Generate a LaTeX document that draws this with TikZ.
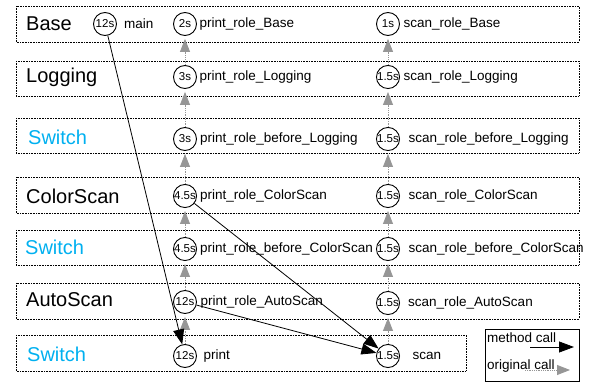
\documentclass[tikz,border=0pt]{standalone}
\usepackage{fontspec}
\setmainfont{Liberation Sans}
\usetikzlibrary{arrows.meta,positioning}
\definecolor{switchblue}{RGB}{0,176,240}
\definecolor{callgray}{RGB}{150,150,150}

\begin{document}
\begin{tikzpicture}[x=1pt,y=-1pt,
    layer/.style={densely dotted, line width=0.6pt},
    cost/.style={draw, circle, line width=0.9pt, minimum size=23pt, inner sep=0pt, font=\fontsize{11.5}{12}\selectfont},
    fname/.style={inner sep=1pt, font=\fontsize{13.5}{15}\selectfont},
    rolename/.style={right, inner sep=2pt, font=\fontsize{20}{22}\selectfont},
    call/.style={line width=0.8pt, -{Triangle[length=15pt,width=11pt]}},
    orig/.style={callgray, densely dotted, line width=0.8pt, -{Triangle[length=13pt,width=10pt]}, shorten >=3pt}]
    \useasboundingbox (0,0) rectangle (590,385);

    % Layers (dotted boxes)
    \draw[layer] (16,6) rectangle (579,42);
    \draw[layer] (16,61) rectangle (579,96);
    \draw[layer] (16,118) rectangle (579,153);
    \draw[layer] (16,177) rectangle (579,213);
    \draw[layer] (16,230) rectangle (579,265);
    \draw[layer] (16,283) rectangle (579,319);
    \draw[layer] (16,335) rectangle (466,371);

    % Layer names
    \node[rolename] (lBase) at (24,24) {Base};
    \node[rolename] (lLogging) at (24,77) {Logging};
    \node[rolename, switchblue] (lSwitchA) at (26,137) {Switch};
    \node[rolename] (lColorScan) at (24,196) {ColorScan};
    \node[rolename, switchblue] (lSwitchB) at (23,247) {Switch};
    \node[rolename] (lAutoScan) at (24,300) {AutoScan};
    \node[rolename, switchblue] (lSwitchC) at (25,354) {Switch};

    % main
    \node[cost] (main) at (105,24) {12s};
    \node[fname, right=6pt of main] (mainlb) {main};

    % print column
    \node[cost] (pBase) at (185,24) {2s};
    \node[fname, right=1.5pt of pBase] (pBaselb) {print\_role\_Base};
    \node[cost] (pLogging) at (185,77) {3s};
    \node[fname, right=1.5pt of pLogging] (pLogginglb) {print\_role\_Logging};
    \node[cost] (pSwitchA) at (185,139) {3s};
    \node[fname, right=2pt of pSwitchA] (pSwitchAlb) {print\_role\_before\_Logging};
    \node[cost] (pColorScan) at (185,196) {4.5s};
    \node[fname, right=2pt of pColorScan] (pColorScanlb) {print\_role\_ColorScan};
    \node[cost] (pSwitchB) at (185,249) {4.5s};
    \node[fname, right=2pt of pSwitchB] (pSwitchBlb) {print\_role\_before\_ColorScan};
    \node[cost] (pAutoScan) at (185,302) {12s};
    \node[fname, right=2.5pt of pAutoScan] (pAutoScanlb) {print\_role\_AutoScan};
    \node[cost] (print) at (185,356) {12s};
    \node[fname, right=5.5pt of print] (printlb) {print};

    % scan column
    \node[cost] (sBase) at (388,24) {1s};
    \node[fname, right=2.5pt of sBase] (sBaselb) {scan\_role\_Base};
    \node[cost] (sLogging) at (388,77) {1.5s};
    \node[fname, right=2.5pt of sLogging] (sLogginglb) {scan\_role\_Logging};
    \node[cost] (sSwitchA) at (388,139) {1.5s};
    \node[fname, right=7.5pt of sSwitchA] (sSwitchAlb) {scan\_role\_before\_Logging};
    \node[cost] (sColorScan) at (388,196) {1.5s};
    \node[fname, right=7.5pt of sColorScan] (sColorScanlb) {scan\_role\_ColorScan};
    \node[cost] (sSwitchB) at (388,249) {1.5s};
    \node[fname, right=7.5pt of sSwitchB] (sSwitchBlb) {scan\_role\_before\_ColorScan};
    \node[cost] (sAutoScan) at (388,303) {1.5s};
    \node[fname, right=7pt of sAutoScan] (sAutoScanlb) {scan\_role\_AutoScan};
    \node[cost] (scan) at (388,356) {1.5s};
    \node[fname, right=11.5pt of scan] (scanlb) {scan};

    % Original calls (up the layers)
    \draw[orig] (print) -- (pAutoScan);
    \draw[orig] (pAutoScan) -- (pSwitchB);
    \draw[orig] (pSwitchB) -- (pColorScan);
    \draw[orig] (pColorScan) -- (pSwitchA);
    \draw[orig] (pSwitchA) -- (pLogging);
    \draw[orig] (pLogging) -- (pBase);
    \draw[orig] (scan) -- (sAutoScan);
    \draw[orig] (sAutoScan) -- (sSwitchB);
    \draw[orig] (sSwitchB) -- (sColorScan);
    \draw[orig] (sColorScan) -- (sSwitchA);
    \draw[orig] (sSwitchA) -- (sLogging);
    \draw[orig] (sLogging) -- (sBase);

    % Method calls
    \draw[call] (main) -- (print);
    \draw[call] (pColorScan) -- (scan);
    \draw[call] (pAutoScan) -- (scan);

    % Legend
    \draw[line width=0.8pt] (485,329) rectangle (579,381);
    \node[fname, anchor=west] (lgMethod) at (486,338) {method call};
    \node[fname, anchor=west] (lgOrig) at (486,366) {original call};
    \coordinate (mA) at (530,347);
    \coordinate (mB) at (574,347);
    \coordinate (oA) at (525,370);
    \coordinate (oB) at (573,370);
    \draw[call] (mA) -- (mB);
    \draw[orig] (oA) -- (oB);
\end{tikzpicture}
\end{document}
